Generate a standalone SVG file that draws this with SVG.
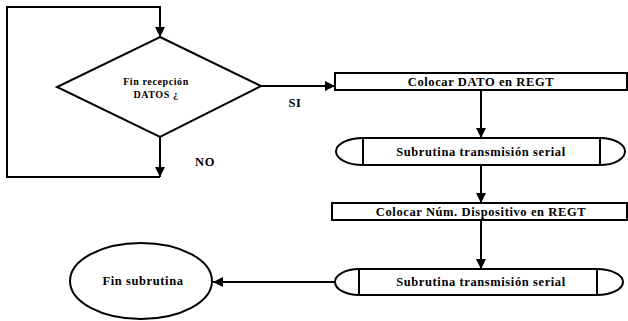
<svg xmlns="http://www.w3.org/2000/svg" width="628" height="321" viewBox="0 0 628 321">
  <style>
    .shape { fill: #ffffff; stroke: #000000; stroke-width: 2; }
    .line { fill: none; stroke: #000000; stroke-width: 2; }
    .lbl { font-family: "Liberation Serif", "Times New Roman", serif; font-weight: bold; font-size: 12.5px; fill: #000000; text-anchor: middle; letter-spacing: 0.6px; }
    .small { font-size: 10px; }
  </style>
  <defs>
    <marker id="arrow" viewBox="0 0 10 10" refX="10" refY="5" markerWidth="10" markerHeight="10" markerUnits="userSpaceOnUse" orient="auto">
      <path d="M0,0 L10,5 L0,10 Z" fill="#000000"/>
    </marker>
  </defs>
  <rect width="628" height="321" fill="#ffffff"/>

  <!-- connectors -->
  <g id="connectors">
    <path class="line" d="M160,137 V177" marker-end="url(#arrow)"/>
    <path class="line" d="M160,177 H7 V7 H160 V37" marker-end="url(#arrow)"/>
    <path class="line" d="M261,86 H335" marker-end="url(#arrow)"/>
    <path class="line" d="M481,90 V138" marker-end="url(#arrow)"/>
    <path class="line" d="M481,165 V203" marker-end="url(#arrow)"/>
    <path class="line" d="M481,220 V269" marker-end="url(#arrow)"/>
    <path class="line" d="M335,282 H213" marker-end="url(#arrow)"/>
    <text class="lbl" x="295" y="107">SI</text>
    <text class="lbl" x="205" y="166">NO</text>
  </g>

  <!-- decision -->
  <g id="decision">
    <path class="shape" d="M160,37 L261,86 L160,137 L57,87 Z"/>
    <text class="lbl small" x="156" y="85">Fin recepción</text>
    <text class="lbl small" x="156" y="98">DATOS ¿</text>
  </g>

  <!-- process: data into register -->
  <g id="colocar-dato">
    <rect class="shape" x="335" y="73" width="292" height="17"/>
    <text class="lbl" x="481" y="86">Colocar DATO en REGT</text>
  </g>

  <!-- first subroutine call -->
  <g id="subrutina-1">
    <path class="shape" d="M363,138 H600 A25,13.5 0 0 1 600,165 H363 A27,13.5 0 0 1 363,138 Z"/>
    <path class="line" d="M363,138 V165 M600,138 V165"/>
    <text class="lbl" x="481" y="156">Subrutina transmisión serial</text>
  </g>

  <!-- process: device number into register -->
  <g id="colocar-num">
    <rect class="shape" x="332" y="203" width="295" height="17"/>
    <text class="lbl" x="481" y="216">Colocar Núm. Dispositivo en REGT</text>
  </g>

  <!-- second subroutine call -->
  <g id="subrutina-2">
    <path class="shape" d="M359,269 H597 A26,13 0 0 1 597,295 H359 A24,13 0 0 1 359,269 Z"/>
    <path class="line" d="M359,269 V295 M597,269 V295"/>
    <text class="lbl" x="481" y="286">Subrutina transmisión serial</text>
  </g>

  <!-- terminator -->
  <g id="fin">
    <ellipse class="shape" cx="141" cy="281" rx="71" ry="38"/>
    <text class="lbl" x="143" y="285">Fin subrutina</text>
  </g>
</svg>
